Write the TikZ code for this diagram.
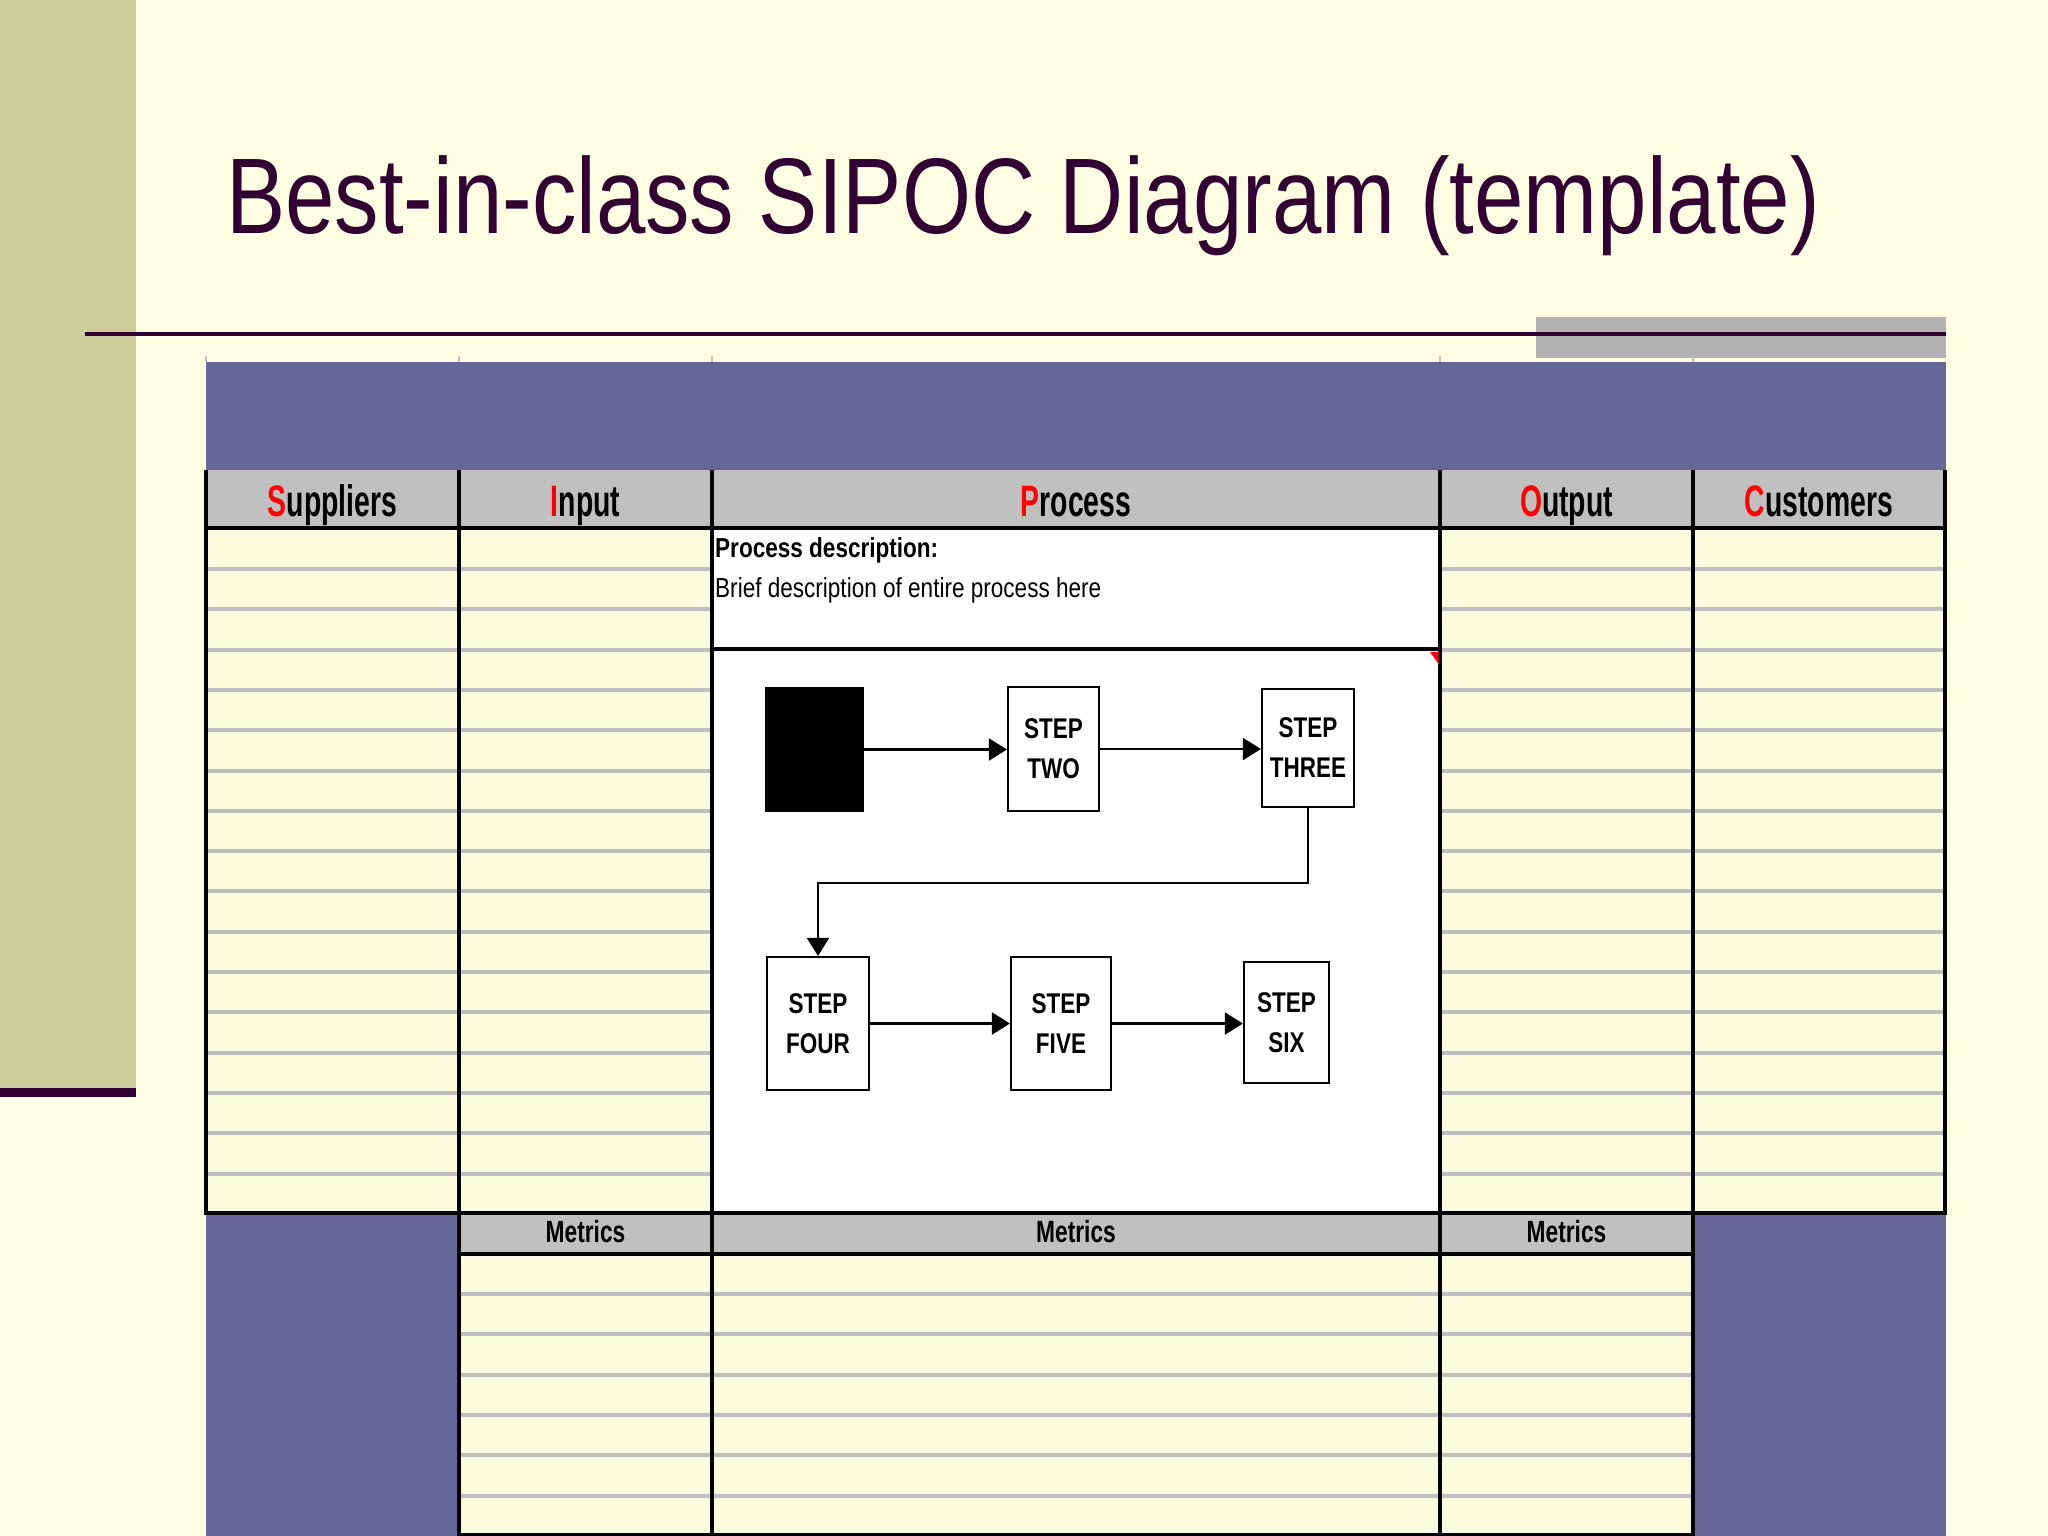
\documentclass[tikz,border=0pt]{standalone}
\usepackage{fontspec}
\setmainfont{Liberation Sans}
\newfontfamily\titlef[FakeStretch=0.826]{Liberation Sans}
\newfontfamily\hdrf[FakeStretch=0.645]{Liberation Sans}
\newfontfamily\metf[FakeStretch=0.74]{Liberation Sans}
\newfontfamily\descf[FakeStretch=0.82]{Liberation Sans}
\newfontfamily\stepf[FakeStretch=0.79]{Liberation Sans}
\usetikzlibrary{arrows.meta}
\definecolor{bgc}{RGB}{254,254,226}
\definecolor{cellc}{RGB}{252,252,222}
\definecolor{olive}{RGB}{204,204,153}
\definecolor{dpurple}{RGB}{51,0,51}
\definecolor{band}{RGB}{102,102,153}
\definecolor{hgray}{RGB}{192,192,192}
\definecolor{rgray}{RGB}{178,178,178}
\definecolor{lgray}{RGB}{190,190,186}
\tikzset{
  hdrtext/.style={anchor=base, inner sep=0, font=\hdrf\bfseries\fontsize{44}{50}\selectfont},
  mettext/.style={anchor=base, inner sep=0, font=\metf\bfseries\fontsize{30.7}{36}\selectfont},
  stepbox/.style={draw, line width=2.2pt, fill=white, inner sep=0, align=center,
    font=\stepf\bfseries\fontsize{28.5}{40}\selectfont},
  arr/.style={line width=2.2pt, -{Triangle[length=18pt,width=22pt]}},
  rowline/.style={lgray, line width=4pt},
  blk/.style={black, line width=3.5pt},
  thk/.style={black, line width=4.5pt}
}
\begin{document}
\begin{tikzpicture}[x=1pt,y=-1pt]
\useasboundingbox (0,0) rectangle (2048,1536);
\fill[bgc] (0,0) rectangle (2048,1536);
% left olive bar
\fill[olive] (0,0) rectangle (136,1088);
\fill[dpurple] (0,1088) rectangle (136,1097);
% top right gray rectangle and rule
\fill[rgray] (1536,317) rectangle (1946,358);
\draw[dpurple, line width=4pt] (85,334) -- (1946,334);
% title
\node[anchor=base west, inner sep=0, text=dpurple, font=\titlef\fontsize{107.5}{120}\selectfont] (title) at (226,233) {Best-in-class SIPOC Diagram (template)};
% tiny ticks
\foreach \xx in {206,459,712,1440,1693} \draw[hgray, line width=2pt] (\xx,356) -- (\xx,362);
% purple band
\fill[band] (206,362) rectangle (1946,470);
% header row
\fill[hgray] (206,470) rectangle (1946,528);
% body cells
\fill[cellc] (206,528) rectangle (712,1213);
\fill[cellc] (1440,528) rectangle (1946,1213);
\fill[white] (712,528) rectangle (1440,1213);
% row lines body
\foreach \k in {0,...,15} {
  \draw[rowline] (208,{569+40.3*\k}) -- (457,{569+40.3*\k});
  \draw[rowline] (461,{569+40.3*\k}) -- (710,{569+40.3*\k});
  \draw[rowline] (1442,{569+40.3*\k}) -- (1691,{569+40.3*\k});
  \draw[rowline] (1695,{569+40.3*\k}) -- (1944,{569+40.3*\k});
}
% lower part
\fill[band] (206,1213) rectangle (459,1536);
\fill[band] (1693,1213) rectangle (1946,1536);
\fill[hgray] (459,1213) rectangle (1693,1254);
\fill[cellc] (459,1254) rectangle (1693,1536);
\foreach \k in {0,...,5} {
  \draw[rowline] (461,{1294+40.3*\k}) -- (710,{1294+40.3*\k});
  \draw[rowline] (714,{1294+40.3*\k}) -- (1438,{1294+40.3*\k});
  \draw[rowline] (1442,{1294+40.3*\k}) -- (1691,{1294+40.3*\k});
}
% grid lines
\draw[blk] (206,470) -- (206,1215);
\draw[blk] (1945,470) -- (1945,1215);
\foreach \xx in {459,712,1440,1693} \draw[blk] (\xx,470) -- (\xx,1536);
\draw[thk] (204,528) -- (1947,528);
\draw[thk] (712,649) -- (1440,649);
\draw[thk] (204,1213) -- (1947,1213);
\draw[thk] (457,1254) -- (1695,1254);
\draw[blk] (457,1534.5) -- (1695,1534.5);
% comment marker
\fill[red] (1430,652) -- (1438.5,652) -- (1438.5,664) -- cycle;
% header texts
\node[hdrtext] (hS) at (332.5,516) {{\color{red}S}uppliers};
\node[hdrtext] (hI) at (585.5,516) {{\color{red}I}nput};
\node[hdrtext] (hP) at (1076,516) {{\color{red}P}rocess};
\node[hdrtext] (hO) at (1566.5,516) {{\color{red}O}utput};
\node[hdrtext] (hC) at (1819,516) {{\color{red}C}ustomers};
% metrics
\node[mettext] (m1) at (585.5,1242) {Metrics};
\node[mettext] (m2) at (1076,1242) {Metrics};
\node[mettext] (m3) at (1566.5,1242) {Metrics};
% description
\node[anchor=base west, inner sep=0, font=\descf\bfseries\fontsize{27.5}{32}\selectfont] (pd) at (715,557) {Process description:};
\node[anchor=base west, inner sep=0, font=\descf\fontsize{27.5}{32}\selectfont] (bd) at (715,597) {Brief description of entire process here};
% flow
\node[fill=black, minimum width=99pt, minimum height=125pt, inner sep=0] (s1) at (814.5,749.5) {};
\node[stepbox, minimum width=91pt, minimum height=124pt] (s2) at (1053.5,749) {STEP\\TWO};
\node[stepbox, minimum width=92pt, minimum height=118pt] (s3) at (1308,748) {STEP\\THREE};
\node[stepbox, minimum width=102pt, minimum height=133pt] (s4) at (818,1023.5) {STEP\\FOUR};
\node[stepbox, minimum width=100pt, minimum height=133pt] (s5) at (1061,1023.5) {STEP\\FIVE};
\node[stepbox, minimum width=85pt, minimum height=121pt] (s6) at (1286.5,1022.5) {STEP\\SIX};
\draw[arr] (s1.east) -- (s1.east -| s2.west);
\draw[arr] (s2.east) -- (s2.east -| s3.west);
\draw[arr] (s3.south) -- ++(0,75) -| (s4.north);
\draw[arr] (s4.east) -- (s4.east -| s5.west);
\draw[arr] (s5.east) -- (s5.east -| s6.west);
\end{tikzpicture}
\end{document}
